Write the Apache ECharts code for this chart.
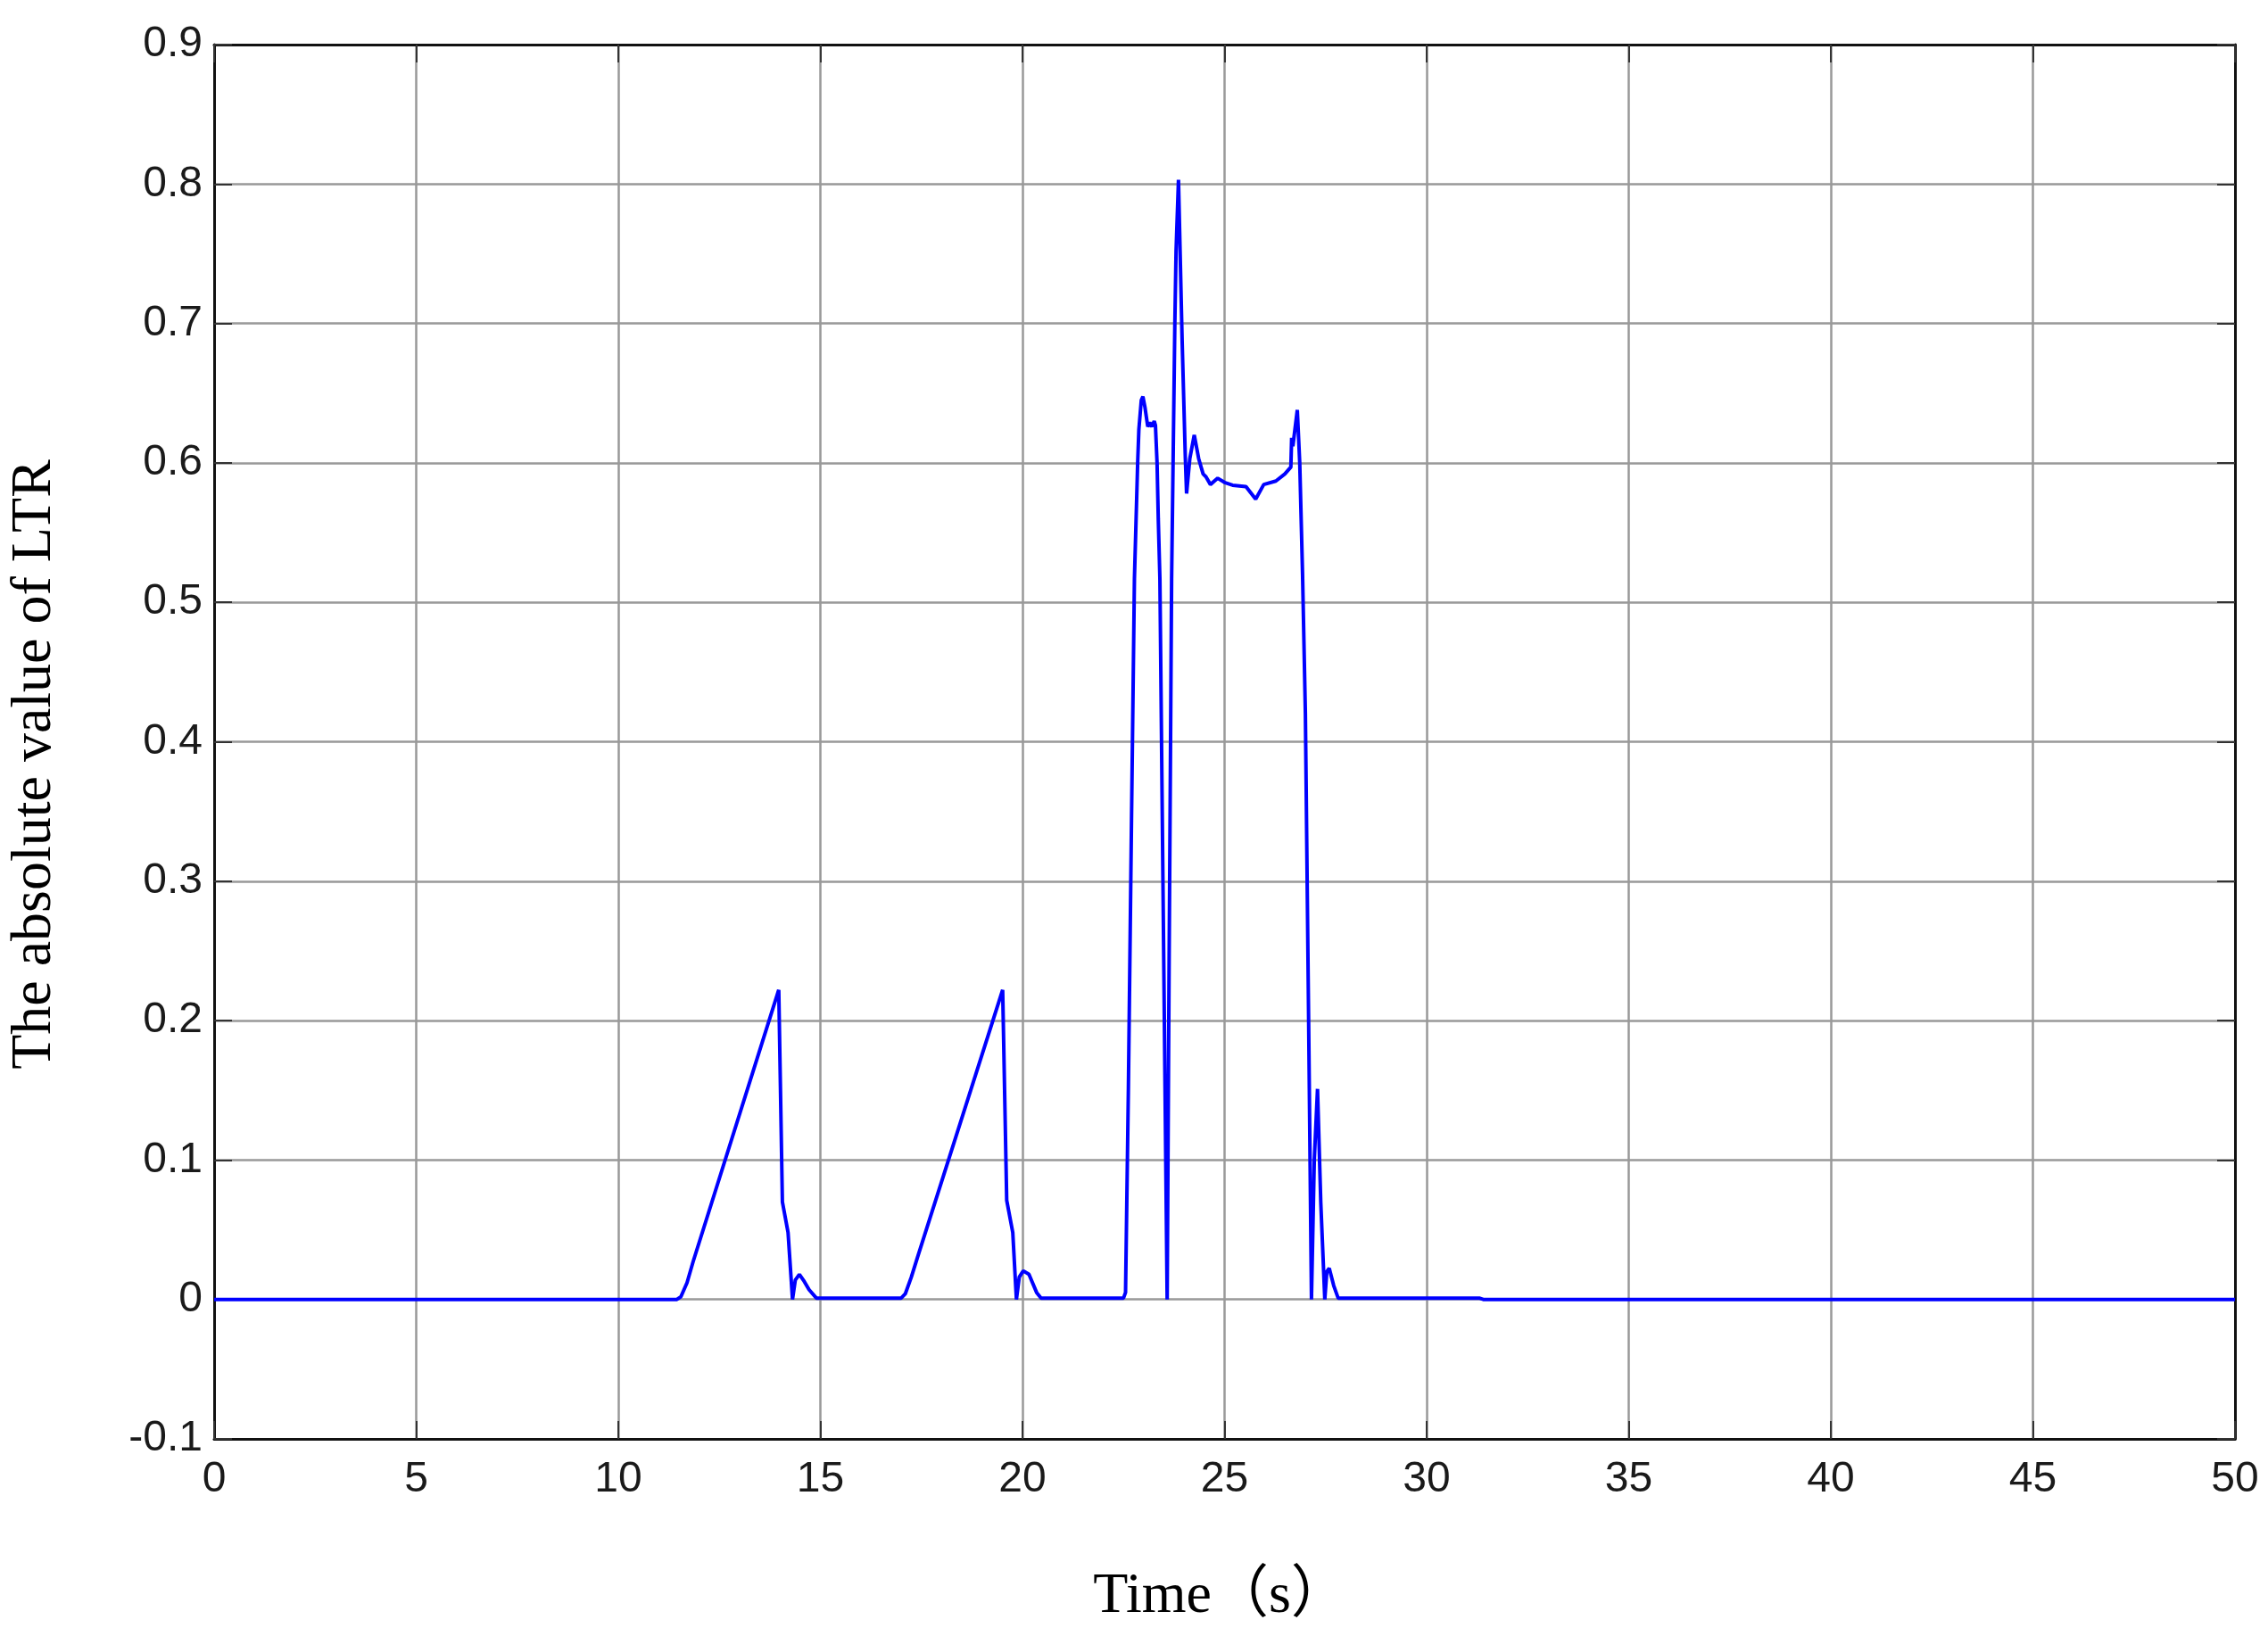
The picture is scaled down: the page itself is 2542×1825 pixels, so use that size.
<!DOCTYPE html>
<html>
<head>
<meta charset="utf-8">
<title>LTR</title>
<script src="https://cdn.jsdelivr.net/npm/echarts@6/dist/echarts.min.js"></script>
<style>
  html, body { margin: 0; padding: 0; background: #fff; }
  #ltrChart { width: 2542px; height: 1825px; }
</style>
</head>
<body>
<div id="ltrChart"></div>
<script>
  // time (s) and |LTR|
  var timeS = [0, 11.45, 11.55, 11.7, 11.85, 13.97, 14.06, 14.2, 14.31, 14.38, 14.48, 14.6, 14.72, 14.9,
    17.0, 17.1, 17.25, 17.4, 19.51, 19.61, 19.76, 19.85, 19.92, 20.02, 20.16, 20.35, 20.46,
    22.5, 22.55, 22.62, 22.7, 22.77, 22.85, 22.88, 22.94, 22.98, 23.03, 23.1, 23.15, 23.2, 23.26, 23.29,
    23.33, 23.36, 23.4, 23.58, 23.63, 23.69, 23.77, 23.8, 23.86, 23.95, 24.03, 24.06, 24.14, 24.25,
    24.36, 24.47, 24.54, 24.65, 24.83, 25.0, 25.2, 25.53, 25.77, 25.97, 26.27, 26.49, 26.64, 26.66,
    26.69, 26.8, 26.86, 26.93, 27.0, 27.08, 27.15, 27.22, 27.3, 27.38, 27.48, 27.53, 27.59, 27.7,
    27.81, 31.3, 31.4, 50]
  var ltrAbs = [0, 0, 0.002, 0.012, 0.027, 0.222, 0.07, 0.048, 0, 0.014, 0.018, 0.013, 0.007, 0.001,
    0.001, 0.004, 0.016, 0.03, 0.222, 0.071, 0.048, 0, 0.016, 0.0205, 0.018, 0.005, 0.001,
    0.001, 0.005, 0.15, 0.35, 0.517, 0.6, 0.624, 0.645, 0.6475, 0.64, 0.626, 0.629, 0.626, 0.63, 0.627,
    0.6, 0.56, 0.517, 0, 0.25, 0.517, 0.7, 0.752, 0.803, 0.688, 0.603, 0.578, 0.603, 0.62,
    0.603, 0.592, 0.59, 0.5845, 0.589, 0.586, 0.584, 0.583, 0.574, 0.5845, 0.587, 0.592, 0.597, 0.618,
    0.612, 0.638, 0.6, 0.52, 0.42, 0.2, 0, 0.1, 0.151, 0.07, 0, 0.02, 0.0224, 0.01,
    0.001, 0.001, 0, 0]
  var xTicks = [0, 5, 10, 15, 20, 25, 30, 35, 40, 45, 50]
  var yTicks = [-0.1, 0, 0.1, 0.2, 0.3, 0.4, 0.5, 0.6, 0.7, 0.8, 0.9]

  var seriesData = timeS.map(function (t, i) { return [t, ltrAbs[i]] })

  var chartLine = echarts.init(document.getElementById('ltrChart'))

  function tickLabel () {
    return { color: '#1a1a1a', fontSize: 48, fontFamily: 'Liberation Sans, Arial, sans-serif' }
  }
  function boxLine () {
    return { show: true, onZero: false, lineStyle: { color: '#111', width: 3 } }
  }
  function inTick () {
    return { show: true, inside: true, length: 20, lineStyle: { color: '#333', width: 2 } }
  }
  function gridLine () {
    return { show: true, lineStyle: { color: '#999', width: 2.5 } }
  }

  var option = {
    backgroundColor: '#fff',
    animation: false,
    grid: { left: 240, right: 37, top: 50, bottom: 212, containLabel: false },
    xAxis: [{
      type: 'value', min: xTicks[0], max: xTicks[xTicks.length - 1], interval: 5,
      axisLine: boxLine(), axisTick: inTick(), splitLine: gridLine(),
      axisLabel: Object.assign({ margin: 22 }, tickLabel())
    }, {
      type: 'value', position: 'top', min: xTicks[0], max: xTicks[xTicks.length - 1], interval: 5,
      axisLine: boxLine(), axisTick: inTick(), splitLine: { show: false }, axisLabel: { show: false }
    }],
    yAxis: [{
      type: 'value', min: yTicks[0], max: yTicks[yTicks.length - 1], interval: 0.1,
      axisLine: boxLine(), axisTick: inTick(), splitLine: gridLine(),
      axisLabel: Object.assign({
        margin: 13,
        formatter: function (v) { return String(Math.round(v * 10) / 10) }
      }, tickLabel())
    }, {
      type: 'value', position: 'right', min: yTicks[0], max: yTicks[yTicks.length - 1], interval: 0.1,
      axisLine: boxLine(), axisTick: inTick(), splitLine: { show: false }, axisLabel: { show: false }
    }],
    graphic: [{
      type: 'text', x: 39, y: 857, rotation: Math.PI / 2,
      style: {
        text: 'The absolute value of LTR', fill: '#000',
        font: '64px "Liberation Serif", "Times New Roman", serif',
        textAlign: 'center', textVerticalAlign: 'middle'
      }
    }, {
      type: 'text', x: 1368, y: 1790,
      style: {
        text: 'Time（s）', fill: '#000',
        font: '64px "Liberation Serif", "Times New Roman", "Noto Sans CJK SC", serif',
        textAlign: 'center', textVerticalAlign: 'middle'
      }
    }],
    series: [{
      name: 'LTR',
      type: 'line',
      data: seriesData,
      showSymbol: false,
      smooth: false,
      lineStyle: { color: '#0000ff', width: 4 },
      itemStyle: { color: '#0000ff' }
    }]
  }

  chartLine.setOption(option)
</script>
</body>
</html>
